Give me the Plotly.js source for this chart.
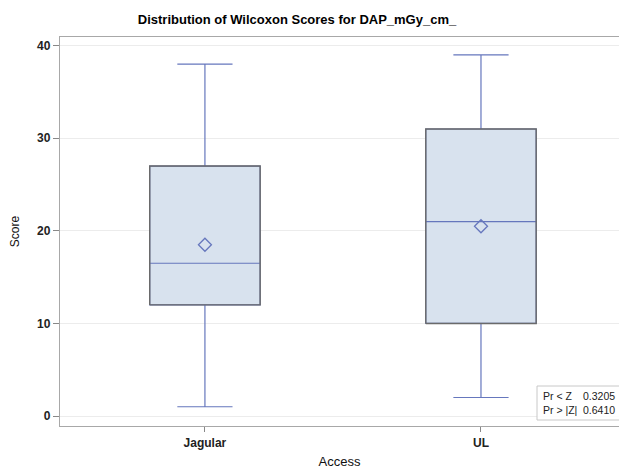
<!DOCTYPE html>
<html><head><meta charset="utf-8">
<script src="https://cdn.plot.ly/plotly-3.0.1.min.js"></script>
<style>html,body{margin:0;padding:0;overflow:hidden;background:#fff}</style>
</head><body><div id="chart" style="width:619px;height:469px"></div>
<script>
const categories = ["Jagular", "UL"];
const lowerWhisker = [1, 2];
const q1 = [12, 10];
const median = [16.5, 21];
const q3 = [27, 31];
const upperWhisker = [38, 39];
const mean = [18.5, 20.5];
const statLabels = ["Pr < Z", "Pr > |Z|"];
const statValues = ["0.3205", "0.6410"];
const yTicks = [0, 10, 20, 30, 40];

const blue = "#6677bd";
const pos = categories.map((c, i) => i);
const halfW = 0.2;
// box outline (gray) drawn on top, built from the quartile arrays
const ox = [], oy = [];
pos.forEach((p, i) => {
  ox.push(p - halfW, p + halfW, p + halfW, p - halfW, p - halfW, null);
  oy.push(q1[i], q1[i], q3[i], q3[i], q1[i], null);
});

const traces = [
  {
    type: "box", x: pos, q1: q1, median: median, q3: q3,
    lowerfence: lowerWhisker, upperfence: upperWhisker,
    width: 2 * halfW, whiskerwidth: 0.5,
    fillcolor: "#d8e2ee", line: {color: blue, width: 1.2},
    boxpoints: false, hoverinfo: "skip", showlegend: false
  },
  {
    type: "scatter", mode: "lines", x: ox, y: oy, connectgaps: false,
    line: {color: "#6a6a6a", width: 1.4}, hoverinfo: "skip", showlegend: false
  },
  {
    type: "scatter", mode: "markers", x: pos, y: mean,
    marker: {symbol: "diamond-open", size: 10, color: blue, line: {color: blue, width: 1.3}},
    hoverinfo: "skip", showlegend: false
  }
];

const layout = {
  width: 619, height: 469,
  margin: {l: 60, r: 0, t: 37, b: 43},
  paper_bgcolor: "#fff", plot_bgcolor: "#fff",
  font: {family: "Liberation Sans, Arial, sans-serif", color: "#000"},
  title: {text: "<b>Distribution of Wilcoxon Scores for DAP_mGy_cm_</b>", font: {size: 13, color: "#000"},
          x: 297/619, xref: "container", xanchor: "center", y: 1 - 19/469, yref: "container", yanchor: "middle"},
  xaxis: {
    range: [-0.525, 1.5], tickvals: pos, ticktext: categories.map(c => "<b>" + c + "</b>"),
    showline: true, linecolor: "#a8a8a8", linewidth: 1.2, mirror: true,
    ticks: "outside", ticklen: 5, tickcolor: "#888", showgrid: false, zeroline: false,
    tickfont: {size: 12, color: "#222"},
    title: {text: "Access", font: {size: 13, color: "#111"}, standoff: 9}
  },
  yaxis: {
    range: [-1.08, 40.94], tickvals: yTicks, ticktext: yTicks.map(v => "<b>" + v + "</b>"),
    showline: true, linecolor: "#a8a8a8", linewidth: 1.2,
    ticks: "outside", ticklen: 6, tickcolor: "#888",
    showgrid: true, gridcolor: "#ececec", gridwidth: 1, zeroline: false,
    tickfont: {size: 12, color: "#222"},
    title: {text: "Score", font: {size: 12, color: "#111"}, standoff: 14}
  },
  shapes: [
    {type: "rect", xref: "paper", yref: "paper", x0: (537-60)/559, x1: 1.01, y0: (426-420)/389, y1: (426-386)/389,
     line: {color: "#c8c8c8", width: 1}, fillcolor: "rgba(255,255,255,0.9)", layer: "above"}
  ],
  annotations: [
    {xref: "paper", yref: "paper", x: (541-60)/559, y: (426-403)/389, xanchor: "left", yanchor: "middle",
     text: statLabels.join("<br>"), showarrow: false, align: "left", font: {size: 10.5, color: "#222"}},
    {xref: "paper", yref: "paper", x: (617-60)/559, y: (426-403)/389, xanchor: "right", yanchor: "middle",
     text: statValues.join("<br>"), showarrow: false, align: "right", font: {size: 10.5, color: "#222"}}
  ]
};

Plotly.newPlot("chart", traces, layout, {displayModeBar: false, staticPlot: true});
</script></body></html>
